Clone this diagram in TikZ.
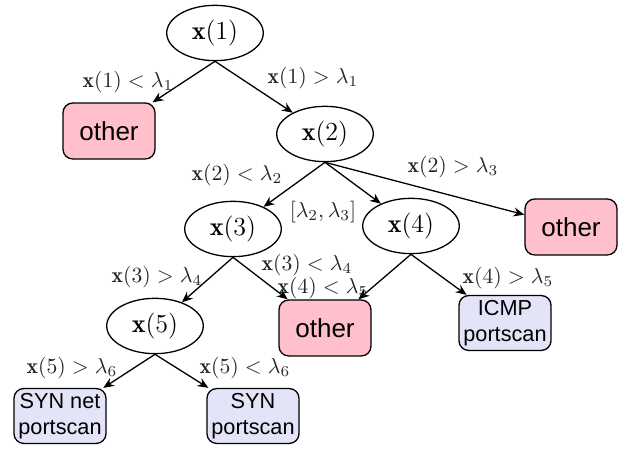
\documentclass[tikz,border=0pt]{standalone}
\usepackage{fontspec}
\newfontfamily\helv{Liberation Sans}
\usetikzlibrary{arrows.meta,shapes.geometric}
\definecolor{pinkfill}{RGB}{255,192,203}
\definecolor{bluefill}{RGB}{228,228,248}
\begin{document}
\begin{tikzpicture}[x=0.4608pt,y=-0.4608pt,
  test/.style={ellipse,draw,line width=0.6pt,minimum width=44.5pt,minimum height=25.5pt,inner sep=0pt,font=\large},
  otherbox/.style={rectangle,rounded corners=4.5pt,draw,line width=0.6pt,fill=pinkfill,minimum width=42.4pt,minimum height=25.8pt,inner sep=0pt,font=\helv\large},
  scanbox/.style={rectangle,rounded corners=4.5pt,draw,line width=0.6pt,fill=bluefill,minimum width=42.4pt,minimum height=25.3pt,inner sep=0pt,align=center,font=\helv\normalsize},
  elabel/.style={font=\normalsize,text=black!85,inner sep=0pt},
  conn/.style={-{Stealth[length=5pt,width=4.2pt]},line width=0.6pt}]
\useasboundingbox (0,0) rectangle (634,452);
\node[test] (x1) at (215,33) {$\mathbf{x}(1)$};
\node[otherbox] (o1) at (109,131) {other};
\node[test] (x2) at (325,134) {$\mathbf{x}(2)$};
\node[otherbox] (o2) at (571,227) {other};
\node[test] (x3) at (233,229) {$\mathbf{x}(3)$};
\node[test] (x4) at (411,226) {$\mathbf{x}(4)$};
\node[test] (x5) at (155,326) {$\mathbf{x}(5)$};
\node[otherbox] (o3) at (325,328) {other};
\node[scanbox] (icmp) at (505,323) {ICMP\\portscan};
\node[scanbox] (synnet) at (60,416) {SYN net\\portscan};
\node[scanbox] (syn) at (253,416) {SYN\\portscan};

\draw[conn] (x1.south) -- (o1);
\draw[conn] (x1.south) -- (x2);
\draw[conn] (x2.south) -- (x3);
\draw[conn] (x2.south) -- (x4);
\draw[conn] (x2.south) -- (o2);
\draw[conn] (x3.south) -- (x5);
\draw[conn] (x3.south) -- (o3);
\draw[conn] (x4.south) -- (o3);
\draw[conn] (x4.south) -- (icmp);
\draw[conn] (x5.south) -- (synnet);
\draw[conn] (x5.south) -- (syn);

\node[elabel] (l1) at (128,82) {$\mathbf{x}(1) < \lambda_1$};
\node[elabel] (l2) at (313,78) {$\mathbf{x}(1) > \lambda_1$};
\node[elabel] (l3) at (237,175) {$\mathbf{x}(2) < \lambda_2$};
\node[elabel] (l4) at (453,167) {$\mathbf{x}(2) > \lambda_3$};
\node[elabel] (l5) at (323,212) {$[\lambda_2, \lambda_3]$};
\node[elabel] (l6) at (157,277) {$\mathbf{x}(3) > \lambda_4$};
\node[elabel] (l7) at (307,265) {$\mathbf{x}(3) < \lambda_4$};
\node[elabel] (l8) at (323,288) {$\mathbf{x}(4) < \lambda_5$};
\node[elabel] (l9) at (508,278) {$\mathbf{x}(4) > \lambda_5$};
\node[elabel] (l10) at (72,368) {$\mathbf{x}(5) > \lambda_6$};
\node[elabel] (l11) at (245,368) {$\mathbf{x}(5) < \lambda_6$};
\end{tikzpicture}
\end{document}
